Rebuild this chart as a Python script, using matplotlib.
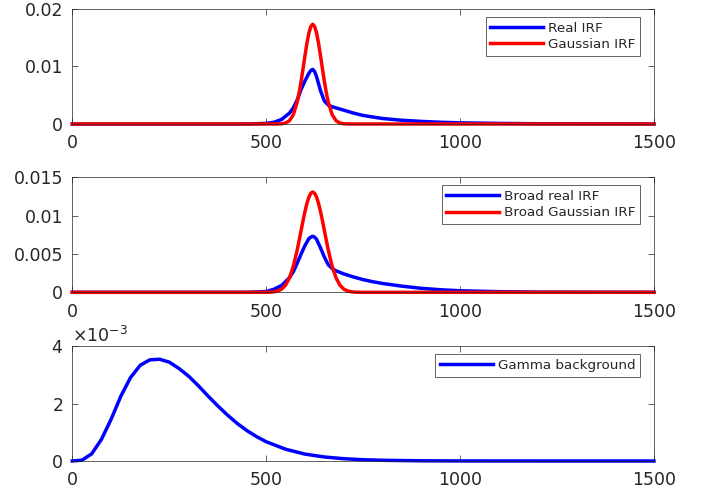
import matplotlib
matplotlib.use('Agg')
import matplotlib.pyplot as plt
from matplotlib.ticker import ScalarFormatter

# panel 1: real vs gaussian IRF
x_real = [0, 450, 500, 520, 540, 560, 570, 580, 590, 600, 610, 615, 620, 625, 630, 640, 650,
          660, 670, 680, 700, 725, 750, 800, 850, 900, 950, 1000, 1100, 1200, 1500]
y_real = [0, 0, 0.0001, 0.0003, 0.0008, 0.0019, 0.0028, 0.0042, 0.0060, 0.0075, 0.0088,
          0.0093, 0.0095, 0.0091, 0.0082, 0.0058, 0.0040, 0.0033, 0.0030, 0.0028, 0.0024,
          0.0019, 0.00148, 0.00095, 0.00065, 0.00045, 0.0003, 0.0002, 0.0001, 0.00004, 0]

x_gauss = [0, 510, 520, 530, 540, 550, 560, 570, 580, 585, 590, 595, 600, 605, 610, 615, 620,
           625, 630, 635, 640, 645, 650, 655, 660, 670, 680, 690, 700, 710, 720, 730, 1500]
y_gauss = [0, 0, 0.000002, 0.00001, 0.00004, 0.00017, 0.00058, 0.00163, 0.00382, 0.00545,
           0.00741, 0.00961, 0.01189, 0.01403, 0.01579, 0.01695, 0.01735, 0.01695, 0.01579,
           0.01403, 0.01189, 0.00961, 0.00741, 0.00545, 0.00382, 0.00163, 0.00058, 0.00017,
           0.00004, 0.00001, 0.000002, 0, 0]

# panel 2: broad versions
x_broad_real = [0, 450, 500, 520, 540, 560, 570, 580, 590, 600, 610, 615, 620, 625, 630, 640,
                650, 660, 670, 680, 700, 725, 750, 775, 800, 850, 900, 950, 1000, 1100, 1200, 1500]
y_broad_real = [0, 0, 0.0001, 0.0004, 0.0009, 0.0019, 0.0027, 0.0038, 0.0050, 0.0061, 0.0070,
                0.0072, 0.0073, 0.0072, 0.0069, 0.0058, 0.0046, 0.0036, 0.0031, 0.0028, 0.0024,
                0.0020, 0.00165, 0.00138, 0.00115, 0.0008, 0.00052, 0.00033, 0.0002, 0.00008,
                0.00003, 0]

x_broad_gauss = [0, 490, 500, 510, 520, 530, 540, 550, 560, 570, 580, 585, 590, 595, 600, 605,
                 610, 615, 620, 625, 630, 635, 640, 645, 650, 655, 660, 670, 680, 690, 700, 710,
                 720, 730, 740, 750, 1500]
y_broad_gauss = [0, 0, 0.000006, 0.00002, 0.00006, 0.00017, 0.00042, 0.00094, 0.00189, 0.00341,
                 0.00553, 0.00677, 0.00806, 0.00935, 0.01055, 0.01159, 0.0124, 0.01291, 0.01308,
                 0.01291, 0.0124, 0.01159, 0.01055, 0.00935, 0.00806, 0.00677, 0.00553, 0.00341,
                 0.00189, 0.00094, 0.00042, 0.00017, 0.00006, 0.00002, 0.000006, 0, 0]

# panel 3: gamma background
x_gamma = [0, 25, 50, 75, 100, 125, 150, 175, 200, 225, 250, 275, 300, 325, 350, 375, 400,
           425, 450, 475, 500, 550, 600, 650, 700, 750, 800, 900, 1000, 1100, 1500]
y_gamma = [0, 0.00003, 0.00025, 0.00075, 0.00145, 0.00225, 0.0029, 0.00333, 0.00352, 0.00354,
           0.00344, 0.00322, 0.00295, 0.00262, 0.00226, 0.00192, 0.0016, 0.00131, 0.00106,
           0.00085, 0.00067, 0.00041, 0.00024, 0.00014, 0.00008, 0.000045, 0.000025,
           0.000007, 0.000002, 0.0000005, 0]

x_ticks = [0, 500, 1000, 1500]
y_ticks = [[0, 0.01, 0.02], [0, 0.005, 0.01, 0.015], [0, 0.002, 0.004]]
y_ticklabels = [['0', '0.01', '0.02'], ['0', '0.005', '0.01', '0.015'], None]
labels = [['Real IRF', 'Gaussian IRF'], ['Broad real IRF', 'Broad Gaussian IRF'],
          ['Gamma background']]

fig = plt.figure(figsize=(7.02, 4.92), dpi=100)
left, width, height = 0.103, 0.8286, 0.2337
bottoms = [0.748, 0.4059, 0.063]
axes = [fig.add_axes([left, b, width, height]) for b in bottoms]

txt = '#262626'
lw = 2.5

axes[0].plot(x_real, y_real, color=(0, 0, 1), lw=lw, clip_on=False, label=labels[0][0])
axes[0].plot(x_gauss, y_gauss, color=(1, 0, 0), lw=lw, clip_on=False, label=labels[0][1])
axes[1].plot(x_broad_real, y_broad_real, color=(0, 0, 1), lw=lw, clip_on=False, label=labels[1][0])
axes[1].plot(x_broad_gauss, y_broad_gauss, color=(1, 0, 0), lw=lw, clip_on=False, label=labels[1][1])
axes[2].plot(x_gamma, y_gamma, color=(0, 0, 1), lw=lw, clip_on=False, label=labels[2][0])

for i, ax in enumerate(axes):
    ax.set_xlim(0, 1500)
    ax.set_ylim(y_ticks[i][0], y_ticks[i][-1])
    ax.set_xticks(x_ticks)
    ax.set_xticklabels([str(t) for t in x_ticks])
    ax.set_yticks(y_ticks[i])
    if y_ticklabels[i] is not None:
        ax.set_yticklabels(y_ticklabels[i])
    for s in ax.spines.values():
        s.set_color('#262626')
        s.set_linewidth(0.5)
    ax.tick_params(direction='in', length=4.5, width=0.5, color='#262626',
                   labelcolor=txt, labelsize=12.5, top=True, right=True)
    ax.tick_params(axis='x', pad=7.5)
    ax.tick_params(axis='y', pad=6.5)
    leg = ax.legend(loc='upper right', bbox_to_anchor=(0.976, 0.93), borderaxespad=0,
                    fontsize=9.7, frameon=True, fancybox=False, framealpha=1,
                    edgecolor='#262626', handlelength=3.9, handletextpad=0.37,
                    borderpad=0.35, labelspacing=0.25)
    leg.get_frame().set_linewidth(0.5)
    for t in leg.get_texts():
        t.set_color(txt)

fmt = ScalarFormatter(useMathText=True)
fmt.set_powerlimits((-2, 2))
axes[2].yaxis.set_major_formatter(fmt)
axes[2].yaxis.get_offset_text().set_fontsize(12.5)
axes[2].yaxis.get_offset_text().set_color(txt)

fig.savefig('out.png', dpi=100)
